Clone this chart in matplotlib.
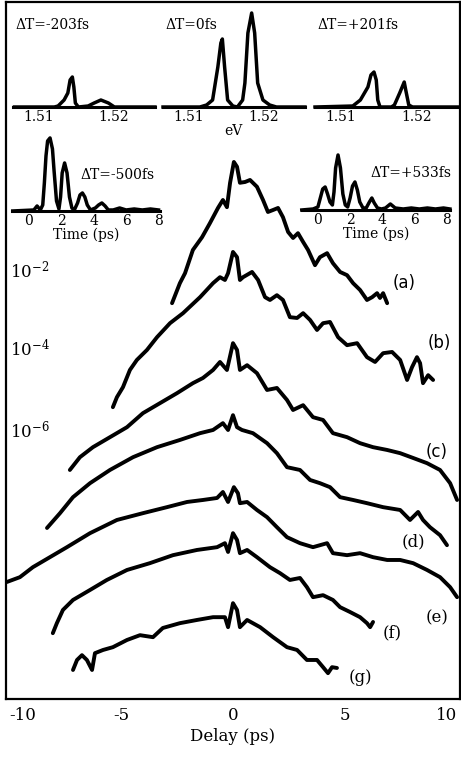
"""
Delay scans (a)-(g) on a log scale, with spectra and time traces as insets
"""

import matplotlib
matplotlib.use("Agg")
import matplotlib.pyplot as plt
import numpy as np

plt.rcParams['font.family'] = ['DejaVu Serif']
plt.rcParams['mathtext.fontset'] = 'dejavuserif'

# ---------- main delay scans: delay (ps), log10(signal) ----------

a_delay = [-2.72, -2.37, -2.14, -1.79, -1.38, -1.03, -0.67, -0.45, -0.27, -0.13,
           0.04, 0.18, 0.31, 0.54, 0.76, 1.07, 1.34, 1.56, 1.79, 2.01, 2.23,
           2.46, 2.68, 2.90, 3.13, 3.35, 3.66, 3.88, 4.20, 4.46, 4.78, 5.09,
           5.36, 5.67, 5.98, 6.21, 6.43, 6.56, 6.70, 6.88]
a_log = [-2.83, -2.33, -2.08, -1.50, -1.18, -0.83, -0.45, -0.25, -0.43, 0.18,
         0.70, 0.58, 0.18, 0.20, 0.25, 0.08, -0.25, -0.55, -0.50, -0.45, -0.68,
         -1.05, -1.20, -1.08, -1.30, -1.50, -1.88, -1.68, -1.58, -1.83, -2.05,
         -2.13, -2.33, -2.50, -2.75, -2.68, -2.58, -2.70, -2.58, -2.83]

b_delay = [-5.36, -5.18, -4.91, -4.60, -4.29, -3.84, -3.39, -2.81, -2.23, -1.47,
           -0.89, -0.58, -0.36, -0.22, 0.00, 0.18, 0.31, 0.45, 0.85, 1.12, 1.43,
           1.65, 1.96, 2.23, 2.54, 2.86, 3.13, 3.44, 3.75, 4.02, 4.33, 4.69,
           5.09, 5.54, 5.98, 6.34, 6.70, 7.10, 7.46, 7.77, 7.99, 8.21, 8.35,
           8.48, 8.71, 8.93]
b_log = [-5.43, -5.18, -4.93, -4.50, -4.25, -4.00, -3.68, -3.33, -3.08, -2.68,
         -2.33, -2.18, -2.25, -2.08, -1.55, -1.68, -2.25, -2.18, -2.05, -2.25,
         -2.68, -2.75, -2.63, -2.75, -3.18, -3.20, -3.08, -3.25, -3.50, -3.33,
         -3.30, -3.68, -3.88, -3.83, -4.18, -4.30, -4.08, -4.05, -4.25, -4.75,
         -4.43, -4.18, -4.33, -4.83, -4.63, -4.75]

c_delay = [-7.28, -6.83, -6.25, -5.49, -4.73, -4.02, -3.26, -2.50, -1.79, -1.34,
           -0.89, -0.58, -0.27, 0.00, 0.18, 0.31, 0.63, 1.07, 1.52, 1.96, 2.41,
           2.68, 3.13, 3.57, 4.02, 4.46, 5.09, 5.67, 6.25, 6.88, 7.46, 8.04,
           8.66, 9.24, 9.69, 10.0]
c_log = [-7.00, -6.68, -6.43, -6.18, -5.93, -5.58, -5.33, -5.08, -4.83, -4.70,
         -4.50, -4.30, -4.50, -3.83, -4.00, -4.50, -4.38, -4.58, -5.00, -4.95,
         -5.25, -5.50, -5.38, -5.68, -5.75, -6.08, -6.18, -6.33, -6.43, -6.50,
         -6.58, -6.70, -6.83, -7.00, -7.33, -7.75]

d_delay = [-8.30, -7.72, -7.14, -6.38, -5.49, -4.46, -3.39, -2.37, -1.47, -0.89,
           -0.45, -0.22, 0.00, 0.18, 0.40, 0.89, 1.52, 1.96, 2.41, 2.99, 3.44,
           3.88, 4.33, 4.78, 5.36, 5.98, 6.70, 7.46, 7.90, 8.26, 8.48, 8.79,
           9.24, 9.55]
d_log = [-8.45, -8.08, -7.68, -7.33, -7.00, -6.68, -6.43, -6.25, -6.08, -6.00,
         -5.83, -6.00, -5.63, -5.93, -6.00, -6.08, -6.33, -6.58, -6.93, -7.00,
         -7.25, -7.33, -7.43, -7.68, -7.75, -7.83, -7.93, -8.00, -8.25, -8.05,
         -8.25, -8.43, -8.63, -8.88]

e_delay = [-10.09, -9.51, -8.93, -8.17, -7.41, -6.38, -5.18, -4.02, -2.95, -2.05,
           -1.34, -0.71, -0.45, -0.22, 0.04, 0.22, 0.31, 0.63, 1.07, 1.52, 1.96,
           2.41, 2.99, 3.57, 4.20, 4.46, 5.09, 5.67, 6.25, 6.88, 7.46, 8.04,
           8.66, 9.24, 9.69, 10.0]
e_log = [-9.80, -9.68, -9.43, -9.18, -8.93, -8.58, -8.25, -8.08, -7.93, -7.80,
         -7.75, -7.70, -7.55, -7.80, -7.43, -7.58, -7.83, -7.80, -8.00, -8.18,
         -8.43, -8.68, -8.83, -8.93, -8.83, -9.08, -9.13, -9.08, -9.18, -9.25,
         -9.25, -9.33, -9.50, -9.68, -9.93, -10.18]

f_delay = [-8.04, -7.86, -7.59, -7.14, -6.38, -5.63, -4.73, -3.71, -2.68, -1.61,
           -0.71, -0.36, -0.22, 0.00, 0.18, 0.31, 0.63, 1.07, 1.65, 2.10, 2.54,
           2.99, 3.30, 3.57, 4.02, 4.46, 4.78, 5.22, 5.67, 5.98, 6.12, 6.25]
f_log = [-11.08, -10.83, -10.50, -10.25, -10.00, -9.75, -9.50, -9.33, -9.13,
         -9.00, -8.93, -8.83, -9.05, -8.58, -8.75, -9.08, -9.00, -9.18, -9.43,
         -9.58, -9.75, -9.70, -9.93, -10.18, -10.13, -10.25, -10.43, -10.55,
         -10.68, -10.83, -10.93, -10.80]

g_delay = [-7.14, -6.96, -6.74, -6.52, -6.29, -6.16, -5.80, -5.36, -4.73, -4.15,
           -3.57, -3.13, -2.37, -1.61, -0.89, -0.36, -0.22, 0.00, 0.18, 0.31,
           0.63, 1.21, 1.79, 2.41, 2.86, 3.30, 3.75, 4.02, 4.24, 4.42, 4.64]
g_log = [-12.00, -11.75, -11.63, -11.75, -12.00, -11.58, -11.50, -11.43, -11.25,
         -11.13, -11.18, -10.95, -10.83, -10.75, -10.68, -10.68, -10.93, -10.33,
         -10.50, -10.93, -10.75, -10.93, -11.18, -11.43, -11.50, -11.75, -11.75,
         -11.93, -12.08, -11.93, -11.95]

curve_names = ["(a)", "(b)", "(c)", "(d)", "(e)", "(f)", "(g)"]
decade_labels = [-2, -4, -6]

# ---------- inset spectra: photon energy (eV), signal (arb.) ----------

spec_titles = ["ΔT=-203fs", "ΔT=0fs", "ΔT=+201fs"]

spec1_ev = [1.5068, 1.5121, 1.5126, 1.5134, 1.5139, 1.5142, 1.5145, 1.5147,
            1.5149, 1.5153, 1.5166, 1.5174, 1.5183, 1.5193, 1.5201, 1.5255]
spec1_y = [0, 0, 1, 7, 14, 27, 30, 20, 4, 0, 1, 4, 7, 4, 0, 0]

spec2_ev = [1.5066, 1.5115, 1.5124, 1.5132, 1.5139, 1.5143, 1.5145, 1.5148,
            1.5152, 1.5159, 1.5165, 1.5172, 1.5175, 1.5179, 1.5184, 1.5188,
            1.5192, 1.5199, 1.5208, 1.5217, 1.5255]
spec2_y = [0, 0, 2, 7, 40, 64, 68, 40, 7, 1, 0, 7, 24, 74, 94, 74, 24, 7, 2, 0, 0]

spec3_ev = [1.5066, 1.5116, 1.5126, 1.5136, 1.5140, 1.5144, 1.5147, 1.5149,
            1.5152, 1.5167, 1.5171, 1.5178, 1.5184, 1.5186, 1.5190, 1.5195,
            1.5255]
spec3_y = [0, 1, 7, 20, 32, 35, 27, 7, 0, 0, 2, 14, 25, 17, 2, 0, 0]

# ---------- inset time traces: time (ps), signal (arb.) ----------

trace1_title = "ΔT=-500fs"
trace1_t = [-1.0, 0.3, 0.5, 0.7, 0.85, 0.95, 1.05, 1.15, 1.3, 1.45, 1.55, 1.7,
            1.85, 1.95, 2.05, 2.2, 2.35, 2.5, 2.65, 2.8, 3.0, 3.15, 3.3, 3.45,
            3.6, 3.8, 4.1, 4.3, 4.5, 4.7, 4.9, 5.2, 5.6, 6.0, 6.5, 7.0, 7.5, 8.0]
trace1_y = [0, 1, 5, 1, 6, 28, 55, 70, 73, 62, 40, 10, 2, 14, 38, 48, 38, 14,
            3, 1, 8, 16, 18, 14, 6, 1, 3, 6, 8, 5, 1, 1, 3, 1, 2, 1, 2, 1]

trace2_title = "ΔT=+533fs"
trace2_t = [-1.0, -0.3, 0.0, 0.15, 0.3, 0.45, 0.6, 0.75, 0.9, 1.0, 1.1, 1.25,
            1.4, 1.55, 1.7, 1.85, 2.0, 2.15, 2.3, 2.45, 2.6, 2.8, 3.0, 3.2,
            3.35, 3.5, 3.7, 3.95, 4.2, 4.5, 4.8, 5.3, 5.8, 6.3, 6.8, 7.3, 7.8,
            8.2]
trace2_y = [0, 1, 3, 12, 21, 23, 16, 8, 5, 18, 42, 55, 42, 16, 5, 3, 12, 24,
            28, 20, 8, 2, 2, 8, 12, 7, 2, 1, 2, 6, 2, 1, 2, 1, 2, 1, 2, 1]

time_ticks = [0, 2, 4, 6, 8]
ev_ticks = [1.51, 1.52]


# ---------- helpers ----------

def bare_inset(fig, rect):
    ax = fig.add_axes(rect)
    ax.patch.set_alpha(0)
    for side in ("top", "left", "right"):
        ax.spines[side].set_visible(False)
    ax.spines["bottom"].set_linewidth(2.2)
    ax.set_yticks([])
    ax.tick_params(axis="x", length=0, pad=2, labelsize=10)
    return ax


# ---------- figure ----------

fig = plt.figure(figsize=(4.61, 7.60), dpi=100)

ax = fig.add_axes([0.0130, 0.0803, 0.9848, 0.9171])
ax.set_yscale("log")
ax.set_xlim(-10.13, 10.13)
ax.set_ylim(10 ** -12.725, 10 ** 4.70)
ax.yaxis.set_major_locator(matplotlib.ticker.NullLocator())
ax.yaxis.set_minor_locator(matplotlib.ticker.NullLocator())
ax.set_xticks([-10, -5, 0, 5, 10])
ax.set_xticklabels(["-10", "-5", "0", "5", "10"])
ax.tick_params(axis="x", length=0, pad=6, labelsize=12)
xlabels = ax.get_xticklabels()
xlabels[0].set_horizontalalignment("left")
xlabels[-1].set_horizontalalignment("right")
ax.set_xlabel("Delay (ps)", fontsize=12, labelpad=3)
for sp in ax.spines.values():
    sp.set_linewidth(1.6)

curves = [(a_delay, a_log), (b_delay, b_log), (c_delay, c_log),
          (d_delay, d_log), (e_delay, e_log), (f_delay, f_log),
          (g_delay, g_log)]
for xs, ls in curves:
    ax.plot(xs, 10 ** np.array(ls), color="black", lw=2.8,
            solid_joinstyle="round", solid_capstyle="round")

# curve labels (centre positions)
label_pos = [(7.63, -2.33), (9.20, -3.83), (9.10, -6.55), (8.04, -8.80),
             (9.10, -10.70), (7.10, -11.08), (5.67, -12.20)]
for i, (name, (lx, ly)) in enumerate(zip(curve_names, label_pos)):
    fam = "DejaVu Sans" if i < 3 else "DejaVu Serif"
    ax.text(lx, 10 ** ly, name, fontsize=12, family=fam,
            ha="center", va="center")

for p in decade_labels:
    ax.text(-9.95, 10.0 ** p, r"$10^{%d}$" % p, fontsize=12,
            ha="left", va="center")

# spectra insets
spec_rects = [[0.0282, 0.8592, 0.308, 0.1316],
              [0.3536, 0.8592, 0.308, 0.1316],
              [0.6833, 0.8592, 0.310, 0.1316]]
spectra = [(spec1_ev, spec1_y), (spec2_ev, spec2_y), (spec3_ev, spec3_y)]
for rect, (ev, sy), title in zip(spec_rects, spectra, spec_titles):
    ia = bare_inset(fig, rect)
    ia.plot(ev, sy, color="black", lw=2.5, clip_on=False,
            solid_joinstyle="round")
    ia.set_xlim(1.5066, 1.5255)
    ia.set_ylim(0, 100)
    ia.set_xticks(ev_ticks)
    ia.set_xticklabels(["1.51", "1.52"])
    ia.text(0.02, 0.82, title, transform=ia.transAxes, fontsize=10,
            ha="left", va="center")
fig.text(233 / 461, 1 - 131 / 760, "eV", fontsize=10, ha="center",
         va="center")

# time-trace insets
t1 = bare_inset(fig, [0.026, 0.7224, 0.321, 0.1053])
t1.plot(trace1_t, trace1_y, color="black", lw=2.5, clip_on=False,
        solid_joinstyle="round")
t1.set_xlim(-1.05, 8.09)
t1.set_ylim(0, 80)
t1.set_xticks(time_ticks)
t1.set_xlabel("Time (ps)", fontsize=10, labelpad=0)
fig.text(80 / 461, 1 - 175 / 760, trace1_title, fontsize=10,
         ha="left", va="center")

t2 = bare_inset(fig, [0.655, 0.7237, 0.321, 0.1053])
t2.plot(trace2_t, trace2_y, color="black", lw=2.5, clip_on=False,
        solid_joinstyle="round")
t2.set_xlim(-0.99, 8.2)
t2.set_ylim(0, 80)
t2.set_xticks(time_ticks)
t2.set_xlabel("Time (ps)", fontsize=10, labelpad=0)
fig.text(370 / 461, 1 - 173 / 760, trace2_title, fontsize=10,
         ha="left", va="center")

fig.savefig("out.png", dpi=100)
